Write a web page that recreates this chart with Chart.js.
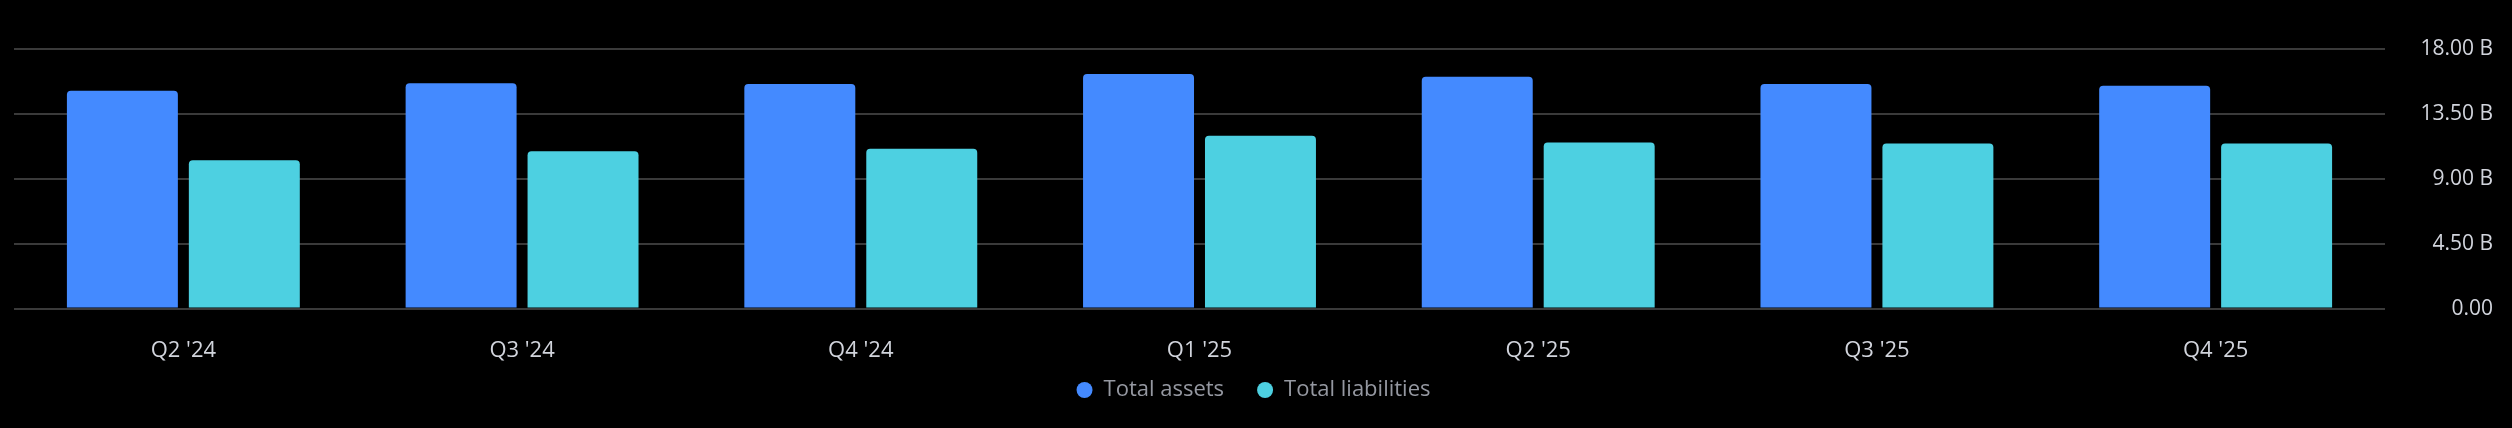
<!DOCTYPE html>
<html>
<head>
<meta charset="utf-8">
<script src="https://cdn.jsdelivr.net/npm/chart.js@4"></script>
<style>
  html, body { margin: 0; padding: 0; background: #000; }
  #wrap { width: 2512px; height: 428px; }
</style>
</head>
<body>
<div id="wrap"><canvas id="balance"></canvas></div>
<script>
const quarters = ["Q2 '24", "Q3 '24", "Q4 '24", "Q1 '25", "Q2 '25", "Q3 '25", "Q4 '25"];
const totalAssets = [15.11, 15.63, 15.57, 16.26, 16.07, 15.57, 15.45];
const totalLiabilities = [10.29, 10.91, 11.09, 11.99, 11.51, 11.44, 11.44];
const yTicks = [0, 4.5, 9, 13.5, 18];

const fontFamily = "'Open Sans', 'Noto Sans', sans-serif";

// legend takes little room in the layout, then its box is stretched up
// so the row sits where the reference has it
const legendHeight = {
  id: 'legendHeight',
  beforeUpdate(chart) {
    const legend = chart.legend;
    if (!legend || legend._patched) return;
    const fit = legend.fit;
    legend.fit = function () {
      fit.call(this);
      this.height = 43;
    };
    legend._patched = true;
  },
  afterLayout(chart) {
    chart.legend.top -= 39;
    chart.legend.height += 39;
  }
};

const ctx = document.getElementById('balance');

new Chart(ctx, {
  type: 'bar',
  data: {
    labels: quarters,
    datasets: [{
      label: 'Total assets',
      data: totalAssets,
      backgroundColor: '#448aff',
      borderRadius: 4
    }, {
      label: 'Total liabilities',
      data: totalLiabilities,
      backgroundColor: '#4dd0e1',
      borderRadius: 4
    }]
  },
  plugins: [legendHeight],
  options: {
    responsive: true,
    maintainAspectRatio: false,
    animation: false,
    categoryPercentage: 0.72,
    barPercentage: 0.91,
    layout: {
      padding: { top: 49, left: 14, right: 19, bottom: 0 }
    },
    plugins: {
      tooltip: { enabled: false },
      legend: {
        position: 'bottom',
        labels: {
          usePointStyle: true,
          pointStyle: 'circle',
          boxWidth: 16,
          boxHeight: 11.3,
          pointStyleWidth: 16,
          padding: 33,
          color: '#9598a1',
          font: { family: fontFamily, size: 22 }
        }
      }
    },
    scales: {
      x: {
        grid: { display: false },
        border: { display: false },
        ticks: {
          color: '#d1d4dc',
          padding: 21,
          font: { family: fontFamily, size: 22 }
        }
      },
      y: {
        position: 'right',
        min: 0,
        max: 18,
        afterBuildTicks(scale) {
          scale.ticks = yTicks.map((v) => ({ value: v }));
        },
        grid: {
          color: '#3a3a3a',
          lineWidth: 2,
          drawTicks: false
        },
        border: { display: false },
        ticks: {
          color: '#d1d4dc',
          crossAlign: 'far',
          font: { family: fontFamily, size: 21 },
          callback: (v) => v === 0 ? '0.00' : v.toFixed(2) + ' B'
        },
        afterFit(scale) { scale.width = 108; }
      }
    }
  }
});
</script>
</body>
</html>
